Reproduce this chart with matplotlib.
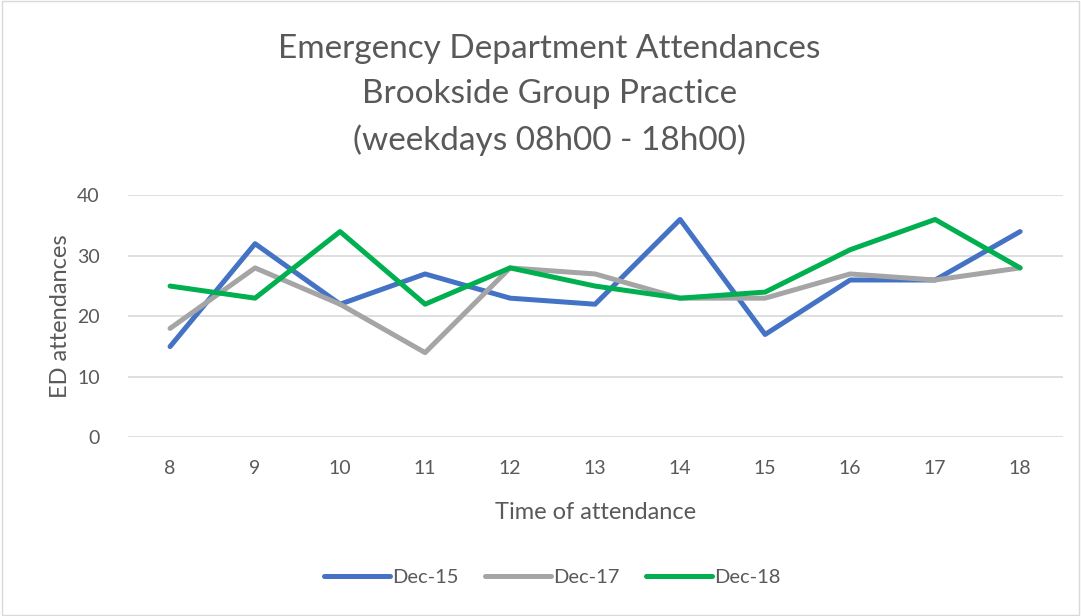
import matplotlib.pyplot as plt
from matplotlib.patches import Rectangle

hours = [8, 9, 10, 11, 12, 13, 14, 15, 16, 17, 18]
dec15 = [15, 32, 22, 27, 23, 22, 36, 17, 26, 26, 34]
dec17 = [18, 28, 22, 14, 28, 27, 23, 23, 27, 26, 28]
dec18 = [25, 23, 34, 22, 28, 25, 23, 24, 31, 36, 28]

series = [("Dec-15", dec15, "#4472C4"),
          ("Dec-17", dec17, "#A5A5A5"),
          ("Dec-18", dec18, "#00B050")]

plt.rcParams['font.family'] = ['Lato', 'DejaVu Sans']
txt = '#595959'

fig = plt.figure(figsize=(10.81, 6.16), dpi=100)
ax = fig.add_axes([0.118, 0.290, 0.865, 0.393])

# thin light border round the chart
fig.patches.append(Rectangle((0.002, 0.002), 0.996, 0.996, transform=fig.transFigure,
                             fill=False, edgecolor='#D9D9D9', linewidth=1))

for name, vals, col in series:
    ax.plot(hours, vals, color=col, linewidth=3.6, label=name, solid_capstyle='round')

ax.set_xlim(7.5, 18.5)
ax.set_ylim(0, 40)
ax.set_yticks([0, 10, 20, 30, 40])
ax.set_xticks(hours)
ax.grid(axis='y', color='#D9D9D9', linewidth=1.2)
ax.set_axisbelow(True)
for s in ax.spines.values():
    s.set_visible(False)
ax.tick_params(axis='both', length=0, labelsize=14, colors=txt)
ax.tick_params(axis='x', pad=16)
ax.tick_params(axis='y', pad=20)

ax.set_xlabel("Time of attendance", fontsize=17, color=txt, labelpad=18)
ax.set_ylabel("ED attendances", fontsize=17, color=txt, labelpad=4)

fig.text(0.508, 0.846, "Emergency Department Attendances\nBrookside Group Practice\n(weekdays 08h00 - 18h00)",
         ha='center', va='center', fontsize=24, color=txt, linespacing=1.6)

fig.legend(loc='center', bbox_to_anchor=(0.511, 0.062), ncol=3, frameon=False,
           fontsize=14.5, labelcolor=txt, handlelength=3.3, handletextpad=0.1, columnspacing=1.3)

fig.savefig("out.png", dpi=100)
